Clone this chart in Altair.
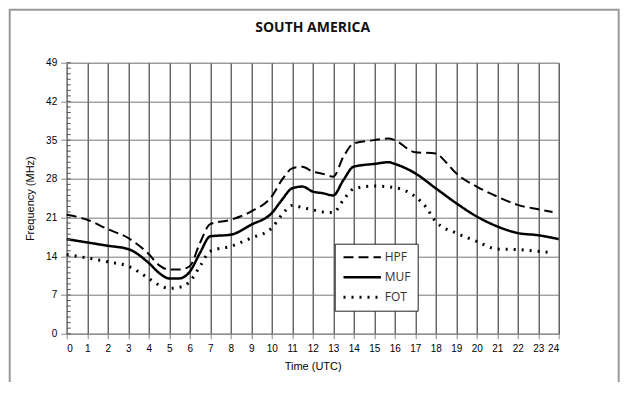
import altair as alt
import pandas as pd

# ---- data ----
hpf_hours = [0, 1, 2, 3, 4, 4.5, 5, 5.5, 6, 6.5, 7, 8, 9, 10, 10.5, 11, 11.5, 12, 12.5, 13,
             13.5, 14, 15, 15.7, 16, 17, 18, 18.5, 19, 20, 21, 22, 23, 23.7]
hpf_vals = [21.5, 20.6, 18.9, 17.3, 14.4, 12.4, 11.6, 11.6, 12.2, 16.4, 19.8, 20.6, 22.1, 24.8,
            27.8, 29.9, 30.2, 29.3, 28.9, 28.4, 32.0, 34.4, 35.0, 35.3, 35.0, 32.8, 32.6, 31.0,
            29.0, 26.6, 24.8, 23.3, 22.5, 22.0]

muf_hours = [0, 1, 2, 3, 4, 4.5, 5, 5.5, 6, 6.5, 7, 8, 9, 10, 10.5, 11, 11.5, 12, 12.5, 13,
             13.5, 14, 15, 15.7, 16, 17, 18, 19, 20, 21, 22, 23, 24]
muf_vals = [17.1, 16.5, 15.9, 15.3, 12.8, 11.0, 10.0, 10.0, 11.2, 14.6, 17.6, 17.9, 19.7, 21.8,
            24.2, 26.3, 26.6, 25.7, 25.4, 25.0, 27.8, 30.2, 30.7, 31.0, 30.7, 29.0, 26.3, 23.6,
            21.2, 19.4, 18.2, 17.8, 17.1]

fot_hours = [0, 1, 2, 3, 4, 4.5, 5, 5.5, 6, 6.5, 7, 8, 9, 10, 10.5, 11, 11.5, 12, 12.5, 13,
             13.5, 14, 15, 16, 17, 17.5, 18, 19, 20, 21, 22, 23, 23.7]
fot_vals = [14.3, 13.7, 13.0, 12.2, 10.0, 8.8, 8.2, 8.4, 9.4, 12.2, 14.9, 15.8, 17.3, 19.1,
            21.5, 23.2, 22.8, 22.4, 22.0, 21.9, 24.2, 26.2, 26.7, 26.4, 24.8, 23.0, 20.3, 18.2,
            16.7, 15.3, 15.2, 14.9, 14.6]

series_names = ["HPF", "MUF", "FOT"]
x_ticks = list(range(0, 25))
y_ticks = [0, 7, 14, 21, 28, 35, 42, 49]
y_minor = list(range(0, 50))

rows = []
for name, hs, vs in [("HPF", hpf_hours, hpf_vals), ("MUF", muf_hours, muf_vals), ("FOT", fot_hours, fot_vals)]:
    for h, v in zip(hs, vs):
        rows.append({"Time": h, "Frequency": v, "Series": name})
df = pd.DataFrame(rows)
minor_df = pd.DataFrame({"Frequency": y_minor})

FONT = "Open Sans"
W, H = 492, 271

y_scale = alt.Scale(domain=[0, 49], nice=False)
y_axis = alt.Axis(values=y_ticks, title="Frequency (MHz)", grid=True, gridColor="#777",
                  gridWidth=1, tickSize=6, labelPadding=4, titlePadding=10,
                  labelOverlap=False, titleFontWeight="normal")

x_enc = alt.X("Time:Q", scale=alt.Scale(domain=[0, 24], nice=False),
              axis=alt.Axis(values=x_ticks, title="Time (UTC)", grid=True, gridColor="#222",
                            gridWidth=1, tickSize=5, labelPadding=5, titlePadding=7,
                            labelOverlap=False, titleFontWeight="normal"))

leg = alt.Legend(title=None, orient="none", legendX=268, legendY=181,
                 symbolType="stroke", symbolSize=1400, clipHeight=13,
                 symbolStrokeColor="black", strokeColor="#222",
                 fillColor="white", padding=7, rowPadding=7,
                 labelFont=FONT, labelFontSize=12, labelColor="#333",
                 labelOffset=2)

lines = alt.Chart(df).mark_line(interpolate="monotone", color="black").encode(
    x=x_enc,
    y=alt.Y("Frequency:Q", scale=y_scale, axis=y_axis),
    strokeDash=alt.StrokeDash("Series:N",
                              scale=alt.Scale(domain=series_names, range=[[10, 5], [1, 0], [2, 6]]),
                              legend=leg),
    strokeWidth=alt.StrokeWidth("Series:N",
                                scale=alt.Scale(domain=series_names, range=[2, 3, 1.8]),
                                legend=leg),
    detail="Series:N",
)

minor = alt.Chart(minor_df).mark_rule(color="#555", strokeWidth=1).encode(
    y=alt.Y("Frequency:Q", scale=y_scale, axis=y_axis),
    x=alt.value(0), x2=alt.value(4),
)

border = alt.Chart(pd.DataFrame({"a": [0]})).mark_rect(
    fill=None, stroke="#999", strokeWidth=2, clip=False
).encode(
    x=alt.value(-57), x2=alt.value(552), y=alt.value(-53), y2=alt.value(400)
)

chart = alt.layer(border, lines, minor).properties(
    width=W, height=H,
    title=alt.TitleParams("SOUTH AMERICA", font=FONT, fontSize=14, fontWeight="bold",
                          color="#111", anchor="middle", frame="group", offset=0, dy=26),
    autosize="none",
    padding={"left": 58.7, "top": 54.7, "right": 61, "bottom": 48},
).configure_view(stroke=None).configure_axis(
    domainColor="black", domainWidth=1.5, tickColor="#333",
    labelFont=FONT, labelFontSize=11, labelColor="#444",
    titleFont=FONT, titleFontSize=10, titleColor="#444", titleFontWeight="normal",
).configure(background="white")

chart.save("out.html", embed_options={"renderer": "svg", "actions": False})
